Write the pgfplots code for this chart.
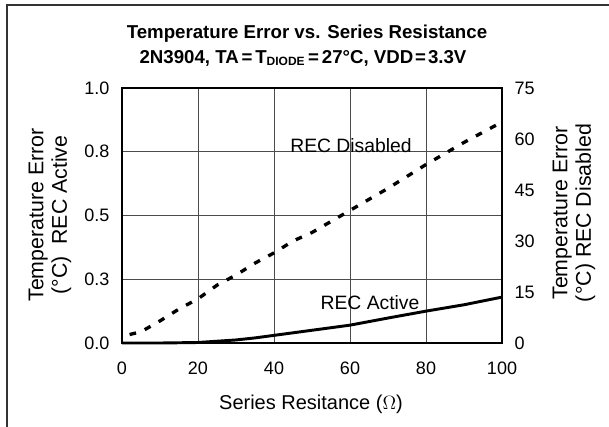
\documentclass[border=0pt]{standalone}
\usepackage{fontspec}
\setmainfont{Liberation Sans}
\usepackage{pgfplots}
\pgfplotsset{compat=1.18}
\begin{document}
\begin{tikzpicture}
\useasboundingbox (0,0) rectangle (456.75pt,-319.5pt);
% outer frame (only top and left visible)
\draw[line width=1.2pt, black!80] (5.25pt,-330pt) -- (5.25pt,-3.75pt) -- (470pt,-3.75pt);
\begin{axis}[
  at={(91.5pt,-257.25pt)}, anchor=south west,
  scale only axis, width=285pt, height=191.25pt,
  xmin=0, xmax=100, ymin=0, ymax=1,
  xtick={0,20,40,60,80,100},
  ytick={0,0.25,0.5,0.75,1},
  yticklabels={0.0,0.3,0.5,0.8,1.0},
  grid=major, grid style={black!70, line width=0.6pt},
  major tick length=0pt,
  axis line style={line width=2pt},
  tick label style={font=\fontsize{13.5}{15}\selectfont},
  /pgf/number format/assume math mode=true,
  xticklabel style={yshift=-11pt},
  yticklabel style={xshift=-6pt},
  clip=false,
]
\addplot[black, line width=2.2pt] coordinates {
(0,0) (10,0) (20,0.002) (30,0.012) (35,0.02) (40,0.03) (50,0.05) (60,0.07) (70,0.098) (80,0.125) (90,0.15) (100,0.18)};
\end{axis}
\begin{axis}[
  at={(91.5pt,-257.25pt)}, anchor=south west,
  scale only axis, width=285pt, height=191.25pt,
  xmin=0, xmax=100, ymin=0, ymax=75,
  axis x line=none, axis y line*=right,
  ytick={0,15,30,45,60,75},
  major tick length=0pt,
  axis line style={line width=2pt},
  tick label style={font=\fontsize{13.5}{15}\selectfont},
  /pgf/number format/assume math mode=true,
  yticklabel style={xshift=6pt},
]
\addplot[black, line width=2.5pt, dash pattern=on 5pt off 7pt] coordinates {
(2,2.5) (5,3.3) (10,6.5) (15,10) (20,13) (25,17) (30,20) (35,23.5) (40,26.5) (45,30) (50,32.5) (60,39) (70,45.5) (80,52.5) (90,59) (100,65)};
\end{axis}
\begin{scope}[x=0.75pt,y=-0.75pt]
\node[font=\bfseries\fontsize{14}{16}\selectfont, anchor=base] at (307,38) {Temperature Error vs. Series Resistance};
\node[font=\bfseries\fontsize{14}{16}\selectfont, anchor=base] at (303,63) {2N3904, TA\hspace{0.15em}=\hspace{0.15em}T\textsubscript{\fontsize{9}{9}\selectfont DIODE}\hspace{0.15em}=\hspace{0.15em}27°C, VDD\hspace{0.1em}=\hspace{0.1em}3.3V};
\node[font=\fontsize{16}{17.5}\selectfont, rotate=90, align=center] at (50,215) {Temperature Error\\(°C)\ \ REC Active};
\node[font=\fontsize{16}{17.5}\selectfont, rotate=90, align=center] at (574,213) {Temperature Error\\(°C) REC Disabled};
\node[font=\fontsize{15}{16}\selectfont] at (311,404) {Series Resitance ($\Omega$)};
\node[font=\fontsize{14.5}{16}\selectfont] at (351,146) {REC Disabled};
\node[font=\fontsize{14.5}{16}\selectfont] at (370,303) {REC Active};
\end{scope}
\end{tikzpicture}
\end{document}
